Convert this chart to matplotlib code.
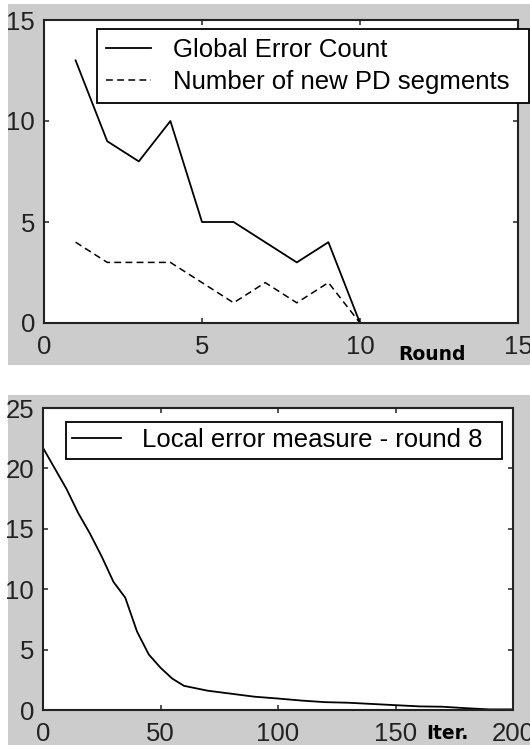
import matplotlib
matplotlib.use('Agg')
import matplotlib.pyplot as plt
from matplotlib.patches import Rectangle

# ---- data ----
rounds = [1, 2, 3, 4, 5, 6, 7, 8, 9, 10]
global_error = [13, 9, 8, 10, 5, 5, 4, 3, 4, 0]
new_pd_segments = [4, 3, 3, 3, 2, 1, 2, 1, 2, 0]

iters = [0, 5, 10, 15, 20, 25, 30, 35, 40, 45, 50, 55, 60, 65, 70, 80, 90,
         100, 110, 120, 130, 140, 150, 160, 170, 180, 190, 200]
local_error = [21.7, 20.0, 18.3, 16.3, 14.6, 12.7, 10.6, 9.3, 6.5, 4.6, 3.5,
               2.6, 2.0, 1.8, 1.6, 1.35, 1.1, 0.95, 0.78, 0.65, 0.6, 0.5, 0.4,
               0.3, 0.27, 0.15, 0.05, 0.05]

x1_ticks = [0, 5, 10, 15]
y1_ticks = [0, 5, 10, 15]
x2_ticks = [0, 50, 100, 150, 200]
y2_ticks = [0, 5, 10, 15, 20, 25]

W, H = 530, 745
GRAY = '#cccccc'
TXT = 'Liberation Sans'
FS = 18.5

fig = plt.figure(figsize=(W / 100, H / 100), dpi=100)
fig.patch.set_facecolor('white')

# gray figure panels (MATLAB-style)
fig.add_artist(Rectangle((8 / W, (H - 365) / H), 522 / W, 361 / H,
                         transform=fig.transFigure, facecolor=GRAY,
                         edgecolor='none', zorder=-10))
fig.add_artist(Rectangle((8 / W, 0), 522 / W, (H - 395) / H,
                         transform=fig.transFigure, facecolor=GRAY,
                         edgecolor='none', zorder=-10))

ax1 = fig.add_axes([44 / W, (H - 323) / H, 474 / W, 303 / H])
ax2 = fig.add_axes([43 / W, (H - 710) / H, 470 / W, 302 / H])


def style(ax):
    ax.set_facecolor('white')
    for s in ax.spines.values():
        s.set_linewidth(1.5)
        s.set_color('#222222')
    ax.tick_params(direction='in', length=3.6, width=1.1, color='#222222',
                   top=True, right=True, pad=6.5, labelsize=FS,
                   labelcolor='#222222')
    ax.tick_params(axis='x', pad=8.5)
    for lab in ax.get_xticklabels() + ax.get_yticklabels():
        lab.set_family(TXT)


# ---- top panel ----
ax1.plot(rounds, global_error, color='black', lw=1.3,
         label='Global Error Count')
ax1.plot(rounds, new_pd_segments, color='black', lw=1.1,
         linestyle=(0, (4.5, 2.8)), label='Number of new PD segments')
ax1.set_xlim(0, 15)
ax1.set_ylim(0, 15)
ax1.set_xticks(x1_ticks)
ax1.set_yticks(y1_ticks)
style(ax1)
leg1 = ax1.legend(loc='upper left', bbox_to_anchor=(0.1118, 0.9703, 0.9114, 0),
                  mode='expand', borderaxespad=0, borderpad=0.35,
                  labelspacing=0.3, handlelength=1.75, handletextpad=0.86,
                  prop={'family': TXT, 'size': FS}, fancybox=False,
                  framealpha=1, facecolor='white', edgecolor='black')
leg1.get_frame().set_linewidth(1.3)
ax1.text(0.818, -0.122, 'Round', transform=ax1.transAxes, ha='center',
         va='baseline', fontweight='bold', family='DejaVu Sans',
         fontsize=13.5, color='black')

# ---- bottom panel ----
ax2.plot(iters, local_error, color='black', lw=1.3,
         label='Local error measure - round 8')
ax2.set_xlim(0, 200)
ax2.set_ylim(0, 25)
ax2.set_xticks(x2_ticks)
ax2.set_yticks(y2_ticks)
style(ax2)
leg2 = ax2.legend(loc='upper left', bbox_to_anchor=(0.0489, 0.9536, 0.928, 0),
                  mode='expand', borderaxespad=0, borderpad=0.25,
                  handlelength=1.9, handletextpad=0.8,
                  prop={'family': TXT, 'size': FS}, fancybox=False,
                  framealpha=1, facecolor='white', edgecolor='black')
leg2.get_frame().set_linewidth(1.3)
ax2.text(0.86, -0.096, 'Iter.', transform=ax2.transAxes, ha='center',
         va='baseline', fontweight='bold', family='DejaVu Sans',
         fontsize=13.5, color='black')

fig.savefig('out.png', dpi=100, facecolor='white')
